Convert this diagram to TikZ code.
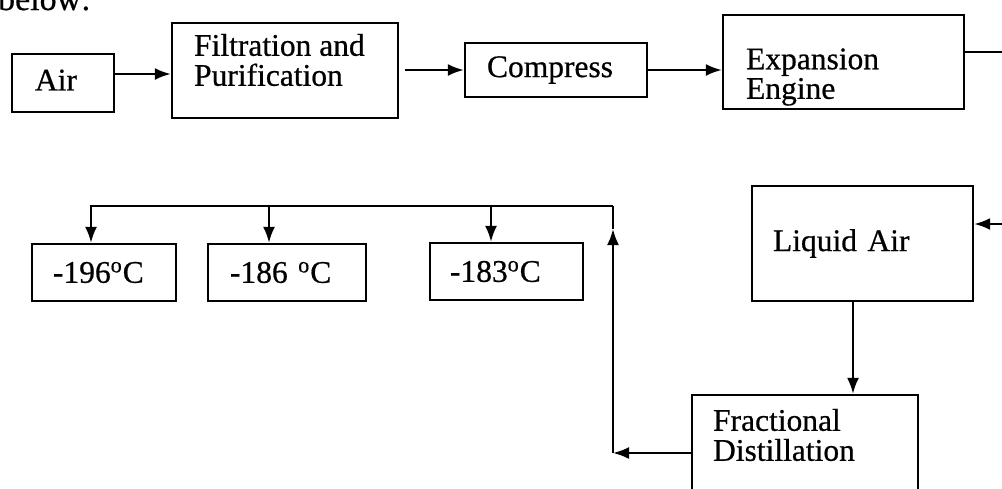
\documentclass[tikz,border=0pt]{standalone}
\usepackage{fontspec}
\setmainfont{Liberation Serif}[FakeBold=0.6]
\usetikzlibrary{arrows.meta,calc}
\tikzstyle{block} = [rectangle, draw, line width=1.2pt, align=left,
    inner ysep=0pt, font=\fontsize{15.75}{15}\selectfont]
\tikzstyle{lbl} = [inner sep=0pt, anchor=west, align=left,
    font=\fontsize{15.75}{15}\selectfont]

\begin{document}
\begin{tikzpicture}[x=0.5pt,y=-0.5pt,->,>={Latex[length=8pt,width=6pt]},
                    line width=1.1pt]
  \useasboundingbox (0,0) rectangle (1002,488);
  \node[anchor=base west, inner sep=0pt, font=\fontsize{17}{20}\selectfont]
       (below) at (-3,10) {below:};

  \node[block, text width=28pt, inner xsep=11.5pt, minimum height=29pt]
       (air) at (63,83) {\raisebox{3pt}{Air}};
  \node[block, minimum width=113pt, minimum height=47.5pt] (filt) at (285,70.5) {};
  \node[block, text width=69pt, inner xsep=11pt, minimum height=27pt]
       (comp) at (556,70) {Compress};
  \node[block, minimum width=120.5pt, minimum height=47pt] (exp) at (843.5,62) {};
  \node[block, text width=89.5pt, inner xsep=10.5pt, minimum height=57.5pt]
       (liq) at (862.5,243.5) {Liquid Air};
  \node[block, minimum width=113pt, minimum height=58pt] (frac) at (805,453) {};

  \node[lbl] (filt-t) at (193,60) {Filtration and\\Purification};
  \node[lbl, font=\fontsize{15.75}{13}\selectfont] (exp-t) at (745,77) {Expansion\\Engine};
  \node[lbl] (frac-t) at (712,435) {Fractional\\Distillation};

  \node[block, text width=51pt, inner xsep=10.5pt, minimum height=28.5pt]
       (t196) at (104,272.5) {-196\textsuperscript{o}C};
  \node[block, text width=57pt, inner xsep=11pt, minimum height=28.5pt]
       (t186) at (287,272.5) {-186 \textsuperscript{o}C};
  \node[block, text width=56.5pt, inner xsep=10pt, minimum height=28.5pt]
       (t183) at (506.5,271.5) {-183\textsuperscript{o}C};

  \coordinate (corner) at (613,453);
  \coordinate (top) at (613,206);

  \draw ([yshift=4.5pt]air.east) -- ([yshift=4.5pt]air.east -| filt.west);
  \draw ([xshift=3pt]filt.east |- comp.west) -- (comp.west);
  \draw (comp.east) -- (comp.east -| exp.west);
  \draw ([yshift=5pt]exp.east) -- ++(40pt,0) |- ([yshift=9.75pt]liq.east);
  \draw ([xshift=-4.75pt]liq.south) -- ([xshift=-4.75pt]liq.south |- frac.north);
  \draw (frac.west) -- (corner);
  \draw (corner) -- ([yshift=-11.5pt]top);
  \draw[-] ([yshift=-11.5pt]top) -- (top);
  \draw (top) -| ([xshift=-6.5pt]t196.north);
  \draw ([xshift=-9pt]t186.north |- top) -- ([xshift=-9pt]t186.north);
  \draw ([xshift=-7.75pt]t183.north |- top) -- ([xshift=-7.75pt]t183.north);
\end{tikzpicture}
\end{document}
